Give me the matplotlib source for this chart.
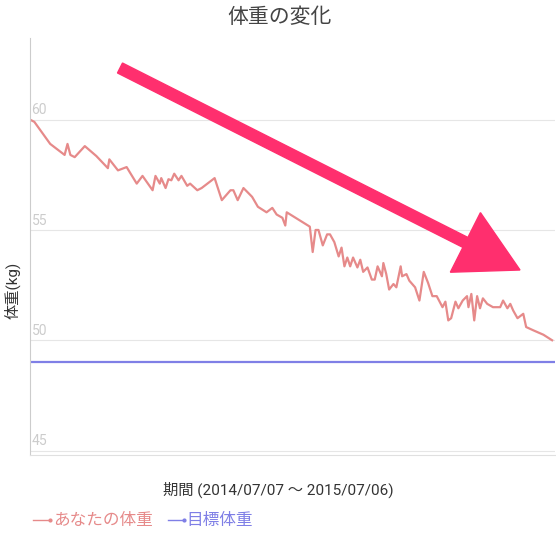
import matplotlib
matplotlib.use("Agg")
import matplotlib.pyplot as plt
from matplotlib.patches import FancyArrow

plt.rcParams['font.family'] = ['Roboto', 'Noto Sans CJK JP', 'DejaVu Sans']

days = [0,3,14,24,26,28,31,38,46,54,55,61,67,74,78,85,87,90,91,94,96,98,100,103,105,109,111,116,119,121,128,133,139,141,144,148,154,158,164,168,171,175,177,178,
        194,196,198,200,203,206,208,211,214,216,218,220,222,224,227,229,231,234,237,239,241,244,245,247,249,252,254,257,258,261,263,267,270,273,276,279,282,286,288,290,292,295,297,300,303,304,306,308,310,312,314,317,321,326,328,331,333,335,338,342,344,349,356,362]
weight = [60.0,59.9,58.9,58.4,58.9,58.4,58.3,58.8,58.35,57.8,58.2,57.7,57.85,57.1,57.45,56.8,57.45,57.1,57.35,56.9,57.3,57.25,57.55,57.25,57.45,57.0,57.1,56.8,56.9,57.0,57.35,56.35,56.8,56.8,56.35,56.9,56.5,56.05,55.8,56.0,55.7,55.55,55.2,55.8,
          55.15,54.0,55.0,55.0,54.3,54.8,54.8,54.45,53.8,54.2,53.35,53.75,53.35,53.75,53.3,53.65,53.1,53.3,52.75,52.75,53.35,52.9,53.5,53.0,52.3,52.55,52.4,53.35,52.9,53.0,52.7,52.4,51.8,53.1,52.6,52.0,52.0,51.5,51.75,50.9,51.0,51.75,51.45,51.8,52.0,51.5,52.1,50.9,52.0,51.45,51.9,51.65,51.5,51.5,51.8,51.45,51.65,51.35,51.0,51.2,50.6,50.45,50.25,50.0]
target = 49.0
yticks = [45, 50, 55, 60]
title = "体重の変化"
ylabel = "体重(kg)"
xlabel = "期間 (2014/07/07 〜 2015/07/06)"
legend_labels = ["あなたの体重", "目標体重"]

wcol = "#e68a8a"
tcol = "#7f7fe6"

fig = plt.figure(figsize=(5.56, 5.56), dpi=100)
ax = fig.add_axes([30/556, 1-455/556, 525/556, 417/556])
ax.plot(days, weight, color=wcol, lw=1.6)
ax.axhline(target, color=tcol, lw=1.6)
ax.set_xlim(0, 364)
ax.set_ylim(44.8, 63.7)
for t in yticks:
    ax.axhline(t, color="#e6e6e6", lw=0.8, zorder=0)
    ax.text(1, t + 0.1, str(t), color="#cccccc", fontsize=10, va="bottom", ha="left")
ax.set_xticks([]); ax.set_yticks([])
for s in ["top", "right"]:
    ax.spines[s].set_visible(False)
ax.spines["left"].set_color("#cccccc")
ax.spines["bottom"].set_color("#e0e0e0")

fig.text(280/556, 1-17/556, title, ha="center", va="center", fontsize=15, color="#444444")
fig.text(12/556, 1-290/556, ylabel, rotation=90, ha="center", va="center", fontsize=11, color="#333333")
fig.text(278/556, 1-490/556, xlabel, ha="center", va="center", fontsize=11, color="#333333")

ly = 1-520/556
fig.lines.append(plt.Line2D([33/556, 50/556], [ly, ly], color=wcol, lw=1, marker="o", markersize=2, markevery=[1], transform=fig.transFigure))
fig.text(53/556, ly, legend_labels[0], color=wcol, fontsize=12, va="center")
fig.lines.append(plt.Line2D([168/556, 184/556], [ly, ly], color=tcol, lw=1, marker="o", markersize=2, markevery=[1], transform=fig.transFigure))
fig.text(186/556, ly, legend_labels[1], color=tcol, fontsize=12, va="center")

x0, y0 = 120/556, 1-68/556
x1, y1 = 520/556, 1-270/556
arr = FancyArrow(x0, y0, x1-x0, y1-y0, width=0.02, head_width=0.12, head_length=0.11,
                 length_includes_head=True, color="#ff2f6e", transform=fig.transFigure)
fig.patches.append(arr)

fig.savefig("out.png", dpi=100)
